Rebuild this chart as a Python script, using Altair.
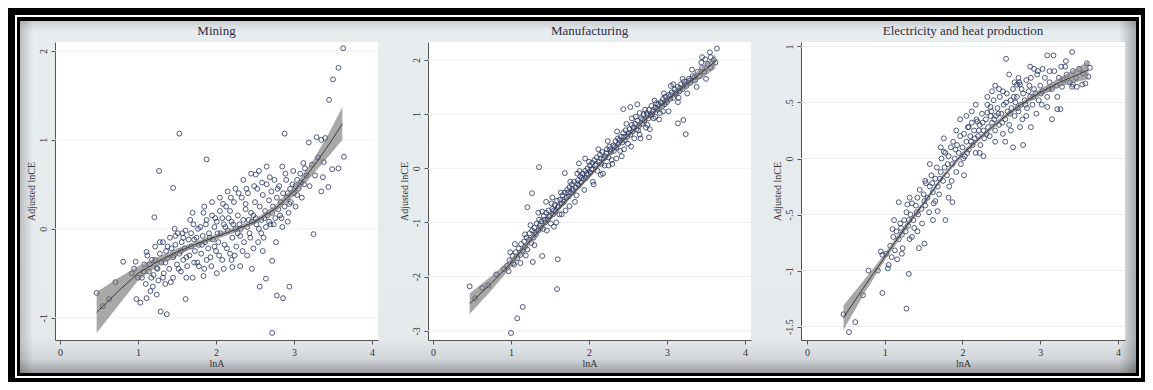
import altair as alt
import pandas as pd

# ---------------- data ----------------
titles = ["Mining", "Manufacturing", "Electricity and heat production"]
x_ticks = [0, 1, 2, 3, 4]
mining_y_ticks = [-1, 0, 1, 2]
manuf_y_ticks = [-3, -2, -1, 0, 1, 2]
elec_y_ticks = [-1.5, -1, -0.5, 0, 0.5, 1]

fit_x = [0.47, 0.75, 1.0, 1.25, 1.5, 1.75, 2.0, 2.25, 2.5, 2.75, 3.0, 3.25, 3.45, 3.62]

mining_fit_y = [-0.94, -0.70, -0.50, -0.37, -0.26, -0.17, -0.09, -0.01, 0.08, 0.22, 0.42, 0.70, 0.95, 1.18]
mining_fit_lo = [-1.17, -0.86, -0.58, -0.42, -0.30, -0.20, -0.12, -0.04, 0.05, 0.18, 0.37, 0.62, 0.82, 1.00]
mining_fit_hi = [-0.71, -0.55, -0.42, -0.32, -0.22, -0.14, -0.06, 0.02, 0.11, 0.26, 0.47, 0.78, 1.08, 1.37]

manuf_fit_y = [-2.50, -2.12, -1.75, -1.33, -0.92, -0.53, -0.15, 0.24, 0.60, 0.93, 1.25, 1.55, 1.77, 1.97]
manuf_fit_lo = [-2.69, -2.25, -1.83, -1.39, -0.97, -0.57, -0.19, 0.20, 0.56, 0.89, 1.20, 1.48, 1.67, 1.84]
manuf_fit_hi = [-2.31, -1.99, -1.67, -1.27, -0.87, -0.49, -0.11, 0.28, 0.64, 0.97, 1.30, 1.62, 1.87, 2.10]

elec_fit_y = [-1.42, -1.13, -0.88, -0.63, -0.40, -0.16, 0.04, 0.20, 0.35, 0.48, 0.59, 0.68, 0.74, 0.79]
elec_fit_lo = [-1.53, -1.19, -0.91, -0.66, -0.42, -0.18, 0.02, 0.18, 0.33, 0.46, 0.56, 0.64, 0.68, 0.71]
elec_fit_hi = [-1.31, -1.07, -0.85, -0.60, -0.38, -0.14, 0.06, 0.22, 0.37, 0.50, 0.62, 0.72, 0.80, 0.87]

mining_pts = [
    (3.63, 2.03), (3.57, 1.81), (3.50, 1.68), (3.45, 1.45), (1.53, 1.07), (2.88, 1.07), (3.29, 1.03),
    (3.35, 1.00), (3.40, 1.02), (3.19, 0.97), (1.88, 0.78), (1.27, 0.65), (1.45, 0.46), (3.64, 0.81),
    (3.49, 0.67), (3.57, 0.68), (3.12, 0.74), (2.51, 0.61), (3.37, 0.58), (3.44, 0.47), (3.35, 0.42),
    (1.21, 0.13), (3.25, -0.06), (1.70, 0.18), (1.84, 0.18), (0.81, -0.37), (0.97, -0.37), (0.71, -0.60),
    (0.47, -0.72), (0.55, -0.87), (0.63, -0.79), (0.98, -0.79), (1.03, -0.83), (1.29, -0.93), (1.37, -0.96),
    (1.61, -0.79), (1.11, -0.78), (1.19, -0.65), (1.24, -0.74), (2.72, -1.17), (2.64, -0.56), (2.56, -0.65),
    (2.78, -0.75), (2.86, -0.78), (2.94, -0.65), (2.72, -0.36), (2.46, -0.45), (2.31, -0.42), (2.21, -0.43),
    (2.01, -0.50), (1.84, -0.53), (2.77, -0.15), (2.92, 0.08), (0.92, -0.50), (0.95, -0.45), (1.00, -0.55),
    (1.11, -0.26),
    (1.05, -0.55), (1.08, -0.40), (1.10, -0.62), (1.12, -0.30), (1.14, -0.48), (1.16, -0.70), (1.18, -0.35),
    (1.20, -0.52), (1.22, -0.20), (1.24, -0.44), (1.26, -0.58), (1.28, -0.28), (1.30, -0.38), (1.32, -0.15),
    (1.33, -0.50), (1.35, -0.62), (1.36, -0.25), (1.38, -0.33), (1.40, -0.45), (1.41, -0.10), (1.43, -0.22),
    (1.45, -0.55), (1.46, -0.30), (1.48, -0.18), (1.50, -0.40), (1.51, -0.05), (1.53, -0.28), (1.55, -0.48),
    (1.56, -0.15), (1.58, -0.35), (1.60, -0.22), (1.61, -0.02), (1.63, -0.42), (1.65, -0.12), (1.66, -0.30),
    (1.68, -0.20), (1.70, -0.55), (1.71, 0.05), (1.73, -0.25), (1.75, -0.10), (1.76, -0.38), (1.78, -0.18),
    (1.80, 0.02), (1.81, -0.28), (1.83, -0.08), (1.85, -0.45), (1.86, -0.15), (1.88, 0.10), (1.90, -0.22),
    (1.91, -0.05), (1.93, -0.32), (1.95, 0.15), (1.96, -0.12), (1.98, 0.02), (2.00, -0.25), (2.01, 0.08),
    (2.03, -0.15), (2.05, 0.20), (2.06, -0.05), (2.08, -0.35), (2.10, 0.05), (2.11, -0.18), (2.13, 0.25),
    (2.15, -0.02), (2.16, 0.12), (2.18, -0.28), (2.20, 0.08), (2.21, -0.10), (2.23, 0.30), (2.25, 0.00),
    (2.26, -0.20), (2.28, 0.15), (2.30, 0.05), (2.31, -0.08), (2.33, 0.35), (2.35, 0.10), (2.36, -0.15),
    (2.38, 0.22), (2.40, 0.02), (2.41, 0.40), (2.43, -0.05), (2.45, 0.18), (2.46, 0.08), (2.48, -0.22),
    (2.50, 0.30), (2.51, 0.12), (2.53, 0.45), (2.55, 0.00), (2.56, 0.25), (2.58, 0.10), (2.60, 0.38),
    (2.61, -0.10), (2.63, 0.20), (2.65, 0.50), (2.66, 0.15), (2.68, 0.32), (2.70, 0.05), (2.71, 0.42),
    (2.73, 0.25), (2.75, 0.55), (2.76, 0.12), (2.78, 0.35), (2.80, 0.22), (2.81, 0.48), (2.83, 0.30),
    (2.85, 0.02), (2.86, 0.40), (2.88, 0.25), (2.90, 0.55), (2.91, 0.35), (2.93, 0.18), (2.95, 0.45),
    (2.96, 0.30), (2.98, 0.50), (3.00, 0.40), (3.02, 0.25), (3.04, 0.55), (3.06, 0.45), (3.08, 0.62),
    (3.10, 0.35), (3.13, 0.50), (3.16, 0.60), (3.20, 0.48), (3.23, 0.72), (3.27, 0.60), (3.31, 0.80),
    (3.38, 0.75),
    (1.15, -0.40), (1.25, -0.45), (1.35, -0.38), (1.45, -0.32), (1.55, -0.25), (1.62, -0.32), (1.72, -0.12),
    (1.82, -0.18), (1.92, -0.10), (2.02, -0.05), (2.12, 0.02), (2.22, 0.05), (2.32, 0.00), (2.42, 0.10),
    (2.52, 0.05), (2.62, 0.12), (2.72, 0.18), (2.82, 0.15), (2.92, 0.40), (3.02, 0.48), (1.98, -0.20),
    (2.08, 0.12), (2.18, 0.20), (2.28, -0.05), (2.38, 0.28), (2.48, 0.15), (2.58, -0.05), (2.68, 0.08),
    (1.88, -0.35), (1.78, -0.42), (1.68, -0.05), (1.58, -0.10), (1.48, -0.08), (1.38, -0.20), (1.28, -0.15),
    (1.52, -0.45), (1.57, -0.05), (1.62, -0.55), (1.67, 0.10), (1.72, -0.38), (1.77, 0.00), (1.87, 0.05),
    (1.94, -0.42), (1.99, 0.12), (2.04, -0.30), (2.09, 0.28), (2.14, -0.22), (2.19, 0.35), (2.24, -0.30),
    (2.29, 0.40), (2.34, -0.25), (2.39, 0.45), (2.44, -0.10), (2.49, 0.48), (2.54, -0.15), (2.59, 0.52),
    (2.64, 0.02), (2.69, 0.58), (2.74, 0.05), (2.79, 0.45), (2.84, 0.12), (2.89, 0.62), (2.94, 0.28),
    (2.99, 0.65), (3.04, 0.38), (3.09, 0.52), (3.14, 0.68), (1.42, -0.60), (1.47, 0.00), (1.32, -0.55),
    (1.22, -0.35), (1.17, -0.55), (1.07, -0.48), (2.10, -0.45), (2.20, -0.35), (2.40, -0.30), (2.60, -0.25),
    (2.05, 0.35), (2.25, 0.45), (2.15, 0.42), (1.95, 0.30), (1.85, 0.25), (2.35, 0.55), (2.45, 0.62),
    (2.55, 0.65), (2.65, 0.70), (2.85, 0.70),
]

manuf_pts = [
    (3.64, 2.21), (3.55, 2.14), (3.45, 2.05), (3.49, 2.01), (2.44, 1.09), (2.53, 1.13), (2.62, 1.18),
    (3.14, 0.83), (3.21, 0.89), (3.24, 0.63), (2.77, 0.57), (1.36, 0.02), (1.69, -0.09), (1.87, 0.09),
    (1.27, -0.46), (1.21, -0.72), (1.19, -1.61), (1.28, -1.73), (1.40, -1.62), (1.60, -1.68), (1.59, -2.23),
    (1.15, -2.56), (1.08, -2.77), (1.00, -3.04), (0.47, -2.18), (0.54, -2.40), (0.63, -2.21), (0.71, -2.16),
    (0.81, -1.96), (0.91, -1.86), (0.97, -1.90), (1.03, -1.75), (1.53, -0.54),
    (0.95, -1.80), (0.98, -1.70), (1.02, -1.62), (1.04, -1.78), (1.06, -1.55), (1.08, -1.66), (1.10, -1.48),
    (1.12, -1.60), (1.13, -1.40), (1.15, -1.52), (1.17, -1.35), (1.18, -1.45), (1.20, -1.28), (1.21, -1.50),
    (1.23, -1.32), (1.24, -1.20), (1.26, -1.38), (1.27, -1.15), (1.29, -1.28), (1.30, -1.10), (1.32, -1.22),
    (1.33, -1.02), (1.35, -1.15), (1.36, -0.95), (1.38, -1.10), (1.39, -0.98), (1.41, -1.12), (1.42, -0.88),
    (1.44, -1.00), (1.45, -0.82), (1.47, -0.95), (1.48, -0.78), (1.50, -0.88), (1.51, -1.02), (1.53, -0.75),
    (1.54, -0.85), (1.56, -0.68), (1.57, -0.80), (1.59, -0.60), (1.60, -0.72), (1.62, -0.85), (1.63, -0.58),
    (1.65, -0.66), (1.66, -0.50), (1.68, -0.62), (1.69, -0.45), (1.71, -0.55), (1.72, -0.40), (1.74, -0.52),
    (1.75, -0.35), (1.77, -0.46), (1.78, -0.30), (1.80, -0.42), (1.81, -0.25), (1.83, -0.36), (1.84, -0.50),
    (1.86, -0.22), (1.87, -0.32), (1.89, -0.15), (1.90, -0.26), (1.92, -0.10), (1.93, -0.20), (1.95, -0.05),
    (1.96, -0.18), (1.98, 0.00), (1.99, -0.12), (2.01, 0.05), (2.02, -0.08), (2.04, 0.10), (2.05, -0.02),
    (2.07, 0.15), (2.08, 0.05), (2.10, 0.20), (2.11, -0.05), (2.13, 0.12), (2.14, 0.25), (2.16, 0.08),
    (2.17, 0.30), (2.19, 0.18), (2.20, 0.05), (2.22, 0.28), (2.23, 0.35), (2.25, 0.20), (2.26, 0.40),
    (2.28, 0.30), (2.29, 0.15), (2.31, 0.42), (2.32, 0.32), (2.34, 0.50), (2.35, 0.38), (2.37, 0.55),
    (2.38, 0.45), (2.40, 0.32), (2.41, 0.58), (2.43, 0.48), (2.44, 0.65), (2.46, 0.52), (2.47, 0.70),
    (2.49, 0.58), (2.50, 0.45), (2.52, 0.72), (2.53, 0.62), (2.55, 0.80), (2.56, 0.68), (2.58, 0.55),
    (2.59, 0.82), (2.61, 0.72), (2.62, 0.88), (2.64, 0.78), (2.65, 0.62), (2.67, 0.92), (2.68, 0.82),
    (2.70, 1.00), (2.71, 0.88), (2.73, 0.75), (2.74, 1.02), (2.76, 0.92), (2.77, 1.08), (2.79, 0.98),
    (2.80, 1.15), (2.82, 1.05), (2.83, 0.92), (2.85, 1.12), (2.86, 1.20), (2.88, 1.08), (2.89, 1.18),
    (2.91, 1.02), (2.92, 1.22), (2.94, 1.15), (2.95, 1.28), (2.97, 1.18), (2.98, 1.32), (3.00, 1.22),
    (3.02, 1.35), (3.04, 1.28), (3.06, 1.40), (3.08, 1.30), (3.10, 1.45), (3.12, 1.38), (3.14, 1.50),
    (3.16, 1.42), (3.18, 1.55), (3.20, 1.46), (3.22, 1.60), (3.25, 1.52), (3.28, 1.65), (3.30, 1.58),
    (3.33, 1.70), (3.36, 1.62), (3.39, 1.78), (3.42, 1.70), (3.45, 1.85), (3.48, 1.78), (3.52, 1.92),
    (3.56, 1.86), (3.60, 2.00), (3.62, 1.95),
    (1.31, -1.18), (1.37, -1.05), (1.43, -0.95), (1.49, -0.90), (1.55, -0.78), (1.61, -0.70), (1.67, -0.58),
    (1.73, -0.45), (1.79, -0.38), (1.85, -0.28), (1.91, -0.18), (1.97, -0.10), (2.03, -0.02), (2.09, 0.08),
    (2.15, 0.18), (2.21, 0.22), (2.27, 0.35), (2.33, 0.40), (2.39, 0.52), (2.45, 0.58), (2.51, 0.65),
    (2.57, 0.75), (2.63, 0.70), (2.69, 0.90), (2.75, 0.98), (2.81, 1.00), (2.87, 1.10), (2.93, 1.20),
    (2.99, 1.25), (3.05, 1.35), (3.11, 1.40), (3.17, 1.48), (3.23, 1.55), (3.29, 1.62), (3.35, 1.68),
    (1.25, -1.05), (1.30, -1.42), (1.40, -0.80), (1.46, -1.15), (1.52, -0.65), (1.58, -1.00), (1.64, -0.45),
    (1.70, -0.78), (1.76, -0.25), (1.82, -0.62), (1.88, -0.05), (1.94, -0.40), (2.00, 0.12), (2.06, -0.30),
    (2.12, 0.35), (2.18, -0.10), (2.24, 0.50), (2.30, 0.08), (2.36, 0.68), (2.42, 0.22), (2.48, 0.82),
    (2.54, 0.40), (2.60, 0.95), (2.66, 0.55), (2.72, 1.08), (2.78, 0.72), (2.84, 1.25), (2.90, 0.90),
    (2.96, 1.38), (3.02, 1.05), (3.08, 1.55), (3.14, 1.22), (3.20, 1.65), (3.26, 1.38), (3.32, 1.82),
    (3.38, 1.50), (3.44, 1.95), (3.50, 1.65), (3.56, 2.05), (1.35, -0.82), (1.45, -0.62), (1.55, -1.08),
    (1.65, -0.85), (1.75, -0.70), (1.85, -0.10), (1.95, 0.18), (2.05, -0.25), (2.15, -0.12), (2.25, 0.05),
    (2.35, 0.18), (2.45, 0.35), (2.55, 0.92), (2.65, 1.02), (2.75, 0.80), (2.85, 0.95), (2.95, 1.05),
    (3.05, 1.52), (3.15, 1.30), (1.18, -1.22), (1.12, -1.75), (1.05, -1.40), (0.99, -1.55),
]

elec_pts = [
    (3.41, 0.95), (3.09, 0.92), (3.17, 0.92), (3.33, 0.87), (2.56, 0.89), (2.42, 0.65), (2.70, 0.66),
    (2.74, 0.66), (2.97, 0.78), (3.03, 0.80), (3.28, 0.64), (3.41, 0.64), (3.47, 0.64), (3.54, 0.66),
    (3.58, 0.67), (3.64, 0.81), (3.62, 0.73), (3.15, 0.35), (3.22, 0.44), (3.26, 0.44), (3.09, 0.46),
    (2.78, 0.12), (2.65, 0.10), (2.88, 0.28), (2.74, 0.28), (2.08, 0.28), (2.19, 0.33), (2.36, 0.46),
    (2.32, 0.41), (1.76, 0.06), (0.54, -1.55), (0.62, -1.46), (0.47, -1.39), (0.72, -1.22), (0.79, -1.00),
    (0.91, -1.00), (0.97, -1.20), (1.04, -0.98), (1.28, -1.34), (1.31, -1.03), (0.95, -0.83), (0.97, -0.86),
    (1.18, -0.39), (1.29, -0.41), (1.10, -0.63), (1.44, -0.80), (1.51, -0.76), (1.78, -0.55), (1.87, -0.39),
    (1.68, -0.47),
    (1.02, -0.85), (1.05, -0.95), (1.07, -0.78), (1.09, -0.88), (1.11, -0.70), (1.13, -0.82), (1.15, -0.65),
    (1.16, -0.90), (1.18, -0.72), (1.20, -0.58), (1.22, -0.68), (1.23, -0.80), (1.25, -0.55), (1.27, -0.65),
    (1.28, -0.48), (1.30, -0.60), (1.32, -0.72), (1.33, -0.50), (1.35, -0.40), (1.37, -0.55), (1.38, -0.62),
    (1.40, -0.42), (1.42, -0.35), (1.43, -0.50), (1.45, -0.28), (1.47, -0.45), (1.48, -0.58), (1.50, -0.32),
    (1.52, -0.42), (1.53, -0.22), (1.55, -0.35), (1.57, -0.48), (1.58, -0.25), (1.60, -0.15), (1.62, -0.30),
    (1.63, -0.40), (1.65, -0.18), (1.67, -0.08), (1.68, -0.25), (1.70, -0.32), (1.72, -0.12), (1.73, 0.00),
    (1.75, -0.20), (1.77, -0.08), (1.78, 0.05), (1.80, -0.15), (1.82, 0.02), (1.83, -0.25), (1.85, 0.10),
    (1.87, -0.05), (1.88, 0.15), (1.90, 0.00), (1.92, -0.12), (1.93, 0.12), (1.95, 0.05), (1.97, 0.20),
    (1.98, -0.05), (2.00, 0.10), (2.02, 0.22), (2.03, 0.02), (2.05, 0.15), (2.07, 0.28), (2.08, 0.08),
    (2.10, 0.20), (2.12, 0.32), (2.13, 0.12), (2.15, 0.25), (2.17, 0.05), (2.18, 0.35), (2.20, 0.20),
    (2.22, 0.30), (2.23, 0.12), (2.25, 0.40), (2.27, 0.25), (2.28, 0.18), (2.30, 0.35), (2.32, 0.48),
    (2.33, 0.28), (2.35, 0.20), (2.37, 0.42), (2.38, 0.32), (2.40, 0.52), (2.42, 0.25), (2.43, 0.38),
    (2.45, 0.45), (2.47, 0.30), (2.48, 0.55), (2.50, 0.40), (2.52, 0.22), (2.53, 0.48), (2.55, 0.35),
    (2.57, 0.58), (2.58, 0.42), (2.60, 0.30), (2.62, 0.52), (2.63, 0.45), (2.65, 0.62), (2.67, 0.38),
    (2.68, 0.50), (2.70, 0.55), (2.72, 0.42), (2.73, 0.68), (2.75, 0.48), (2.77, 0.35), (2.78, 0.58),
    (2.80, 0.52), (2.82, 0.70), (2.83, 0.45), (2.85, 0.60), (2.87, 0.55), (2.88, 0.72), (2.90, 0.48),
    (2.92, 0.62), (2.94, 0.58), (2.96, 0.75), (2.98, 0.52), (3.00, 0.65), (3.03, 0.60), (3.06, 0.72),
    (3.09, 0.55), (3.12, 0.68), (3.15, 0.62), (3.18, 0.78), (3.21, 0.65), (3.24, 0.72), (3.27, 0.82),
    (3.30, 0.70), (3.34, 0.75), (3.38, 0.68), (3.42, 0.78), (3.46, 0.72), (3.50, 0.80), (3.55, 0.76),
    (3.60, 0.85),
    (1.21, -0.62), (1.31, -0.55), (1.41, -0.48), (1.51, -0.38), (1.61, -0.22), (1.71, -0.18), (1.81, -0.05),
    (1.91, 0.08), (2.01, 0.00), (2.11, 0.15), (2.21, 0.25), (2.31, 0.22), (2.41, 0.35), (2.51, 0.32),
    (2.61, 0.40), (2.71, 0.45), (2.81, 0.48), (2.91, 0.55), (3.01, 0.58), (3.11, 0.62), (2.06, 0.05),
    (2.16, 0.18), (2.26, 0.32), (2.36, 0.38), (2.46, 0.40), (2.56, 0.50), (2.66, 0.55), (2.76, 0.62),
    (2.86, 0.65),
    (1.12, -0.55), (1.22, -0.85), (1.32, -0.35), (1.42, -0.65), (1.52, -0.20), (1.62, -0.55), (1.72, 0.10),
    (1.82, -0.35), (1.92, 0.25), (2.02, -0.15), (2.12, 0.42), (2.22, 0.05), (2.32, 0.55), (2.42, 0.15),
    (2.52, 0.60), (2.62, 0.25), (2.72, 0.72), (2.82, 0.38), (2.92, 0.80), (3.02, 0.48), (3.12, 0.78),
    (3.22, 0.55), (3.32, 0.82), (3.42, 0.66), (1.97, 0.35), (2.17, 0.48), (2.27, 0.02), (2.47, 0.62),
    (2.67, 0.68), (2.87, 0.82), (1.65, -0.38), (1.86, -0.20), (2.55, 0.15), (2.95, 0.40), (1.35, -0.70),
    (1.58, -0.05), (1.76, 0.18), (2.05, 0.38), (2.38, 0.60), (2.60, 0.75),
]

# ---------------- styling ----------------
SERIF = "Liberation Serif"
PT_COLOR = "#22305f"
H = 298
LABEL_EXPR = "replace(toString(datum.value), '0.', '.')"


def box(x1, x2, y1, y2, color):
    return alt.Chart(alt.Data(values=[{"k": 0}])).mark_rect(color=color).encode(
        x=alt.value(x1), x2=alt.value(x2), y=alt.value(y1), y2=alt.value(y2)
    )


# decorative Stata-like graph region with a black picture frame
grad_v = alt.LinearGradient(
    gradient="linear", x1=0, x2=0, y1=0, y2=1,
    stops=[
        alt.GradientStop(offset=0, color="#c9ced2"),
        alt.GradientStop(offset=0.03, color="#e7ecef"),
        alt.GradientStop(offset=0.9, color="#e5eaed"),
        alt.GradientStop(offset=0.96, color="#d2d6da"),
        alt.GradientStop(offset=1, color="#9a9ea2"),
    ],
)
grad_h = alt.LinearGradient(
    gradient="linear", x1=0, x2=1, y1=0, y2=0,
    stops=[
        alt.GradientStop(offset=0, color="rgba(0,0,0,0.18)"),
        alt.GradientStop(offset=0.012, color="rgba(0,0,0,0)"),
        alt.GradientStop(offset=0.985, color="rgba(0,0,0,0)"),
        alt.GradientStop(offset=1, color="rgba(0,0,0,0.28)"),
    ],
)
gray = alt.Chart(alt.Data(values=[{"k": 0}])).mark_rect(color=grad_v).encode(
    x=alt.value(12), x2=alt.value(1128), y=alt.value(-21), y2=alt.value(331)
)
shade = alt.Chart(alt.Data(values=[{"k": 0}])).mark_rect(color=grad_h).encode(
    x=alt.value(12), x2=alt.value(1128), y=alt.value(-21), y2=alt.value(331)
)
frame = alt.layer(
    box(0, 1137, -34, 340, "black"),
    box(7, 1133, -27, 336, "white"),
    box(9, 1131, -25, 334, "black"),
    gray,
    shade,
).properties(width=1, height=H, view=alt.ViewBackground(fill="black", stroke=None))


def panel(title, pts, fy, flo, fhi, xdom, ydom, yticks, width):
    px = [p[0] for p in pts]
    py = [p[1] for p in pts]
    df_pts = pd.DataFrame({"x": px, "y": py})
    df_fit = pd.DataFrame({"x": fit_x, "y": fy, "lo": flo, "hi": fhi})
    df_grid = pd.DataFrame({"v": yticks})

    xs = alt.Scale(domain=xdom, nice=False, zero=False)
    ys = alt.Scale(domain=ydom, nice=False, zero=False)
    xaxis = alt.Axis(values=x_ticks, title="lnA", grid=False, format="d")
    yaxis = alt.Axis(values=yticks, title="Adjusted lnCE", grid=False, labelExpr=LABEL_EXPR,
                     labelAngle=270, labelAlign="center", labelBaseline="bottom")
    X = alt.X("x:Q", scale=xs, axis=xaxis)

    grid = alt.Chart(df_grid).mark_rule(color="#eceff2", strokeWidth=1).encode(
        y=alt.Y("v:Q", scale=ys, axis=yaxis)
    )
    points = alt.Chart(df_pts).mark_point(
        shape="circle", filled=False, size=24, strokeWidth=1, color=PT_COLOR, opacity=0.8
    ).encode(x=X, y=alt.Y("y:Q", scale=ys, axis=yaxis))
    band = alt.Chart(df_fit).mark_area(color="#727272", opacity=0.62).encode(
        x=X, y=alt.Y("lo:Q", scale=ys, axis=yaxis), y2="hi:Q"
    )
    line = alt.Chart(df_fit).mark_line(color="#3c3c3c", strokeWidth=1).encode(
        x=X, y=alt.Y("y:Q", scale=ys, axis=yaxis)
    )
    return alt.layer(grid, points, band, line).properties(width=width, height=H, title=title)


p1 = panel(titles[0], mining_pts, mining_fit_y, mining_fit_lo, mining_fit_hi,
           [-0.064, 4.077], [-1.25, 2.1], mining_y_ticks, 323)
p2 = panel(titles[1], manuf_pts, manuf_fit_y, manuf_fit_lo, manuf_fit_hi,
           [-0.064, 4.077], [-3.17, 2.33], manuf_y_ticks, 323)
p3 = panel(titles[2], elec_pts, elec_fit_y, elec_fit_lo, elec_fit_hi,
           [-0.077, 4.09], [-1.62, 1.04], elec_y_ticks, 324)

panels = alt.hconcat(p1, p2, p3, spacing=50, bounds="flush")

chart = (
    alt.hconcat(frame, panels, spacing=46, bounds="flush")
    .properties(padding=0, background="white")
    .configure_view(stroke=None, fill="white")
    .configure_axis(
        labelFont=SERIF, titleFont=SERIF, labelFontSize=10, titleFontSize=10,
        titleFontWeight="normal", labelColor="#333333", titleColor="#333333",
        domainColor="#555555", tickColor="#555555", tickSize=4, labelPadding=3,
        domainWidth=1, tickWidth=1,
    )
    .configure_axisX(titlePadding=1)
    .configure_axisY(titlePadding=2)
    .configure_title(font=SERIF, fontSize=13, fontWeight="normal", color="#2d2d44",
                     frame="group", anchor="middle", offset=0)
)

chart.save("out.html", embed_options={"renderer": "svg", "actions": False})
